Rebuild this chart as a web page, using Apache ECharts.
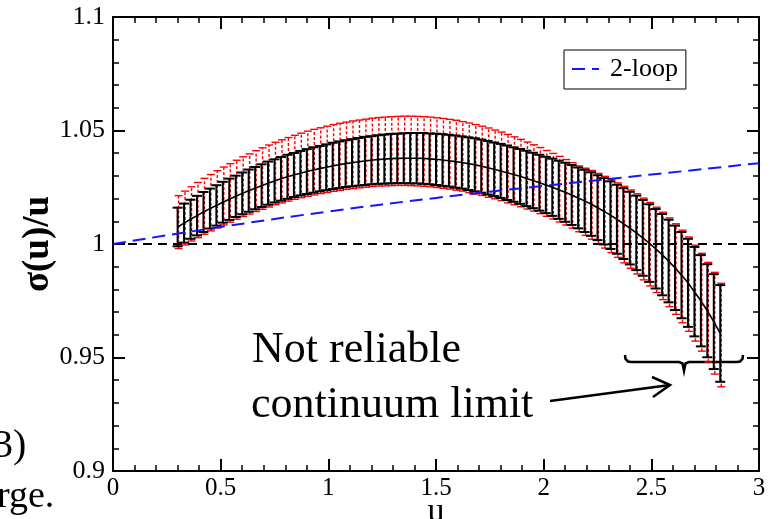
<!DOCTYPE html>
<html>
<head>
<meta charset="utf-8">
<script src="https://cdn.jsdelivr.net/npm/echarts@6/dist/echarts.min.js"></script>
<style>
  html, body { margin: 0; padding: 0; background: #fff; }
  #chart { width: 773px; height: 519px; }
</style>
</head>
<body>
<div id="chart"></div>
<script>
// Step scaling function sigma(u)/u versus u
const uValues = [
  0.30, 0.33, 0.36, 0.39, 0.42, 0.45, 0.48, 0.51, 0.54, 0.57,
  0.60, 0.63, 0.66, 0.69, 0.72, 0.75, 0.78, 0.81, 0.84, 0.87,
  0.90, 0.93, 0.96, 0.99, 1.02, 1.05, 1.08, 1.11, 1.14, 1.17,
  1.20, 1.23, 1.26, 1.29, 1.32, 1.35, 1.38, 1.41, 1.44, 1.47,
  1.50, 1.53, 1.56, 1.59, 1.62, 1.65, 1.68, 1.71, 1.74, 1.77,
  1.80, 1.83, 1.86, 1.89, 1.92, 1.95, 1.98, 2.01, 2.04, 2.07,
  2.10, 2.13, 2.16, 2.19, 2.22, 2.25, 2.28, 2.31, 2.34, 2.37,
  2.40, 2.43, 2.46, 2.49, 2.52, 2.55, 2.58, 2.61, 2.64, 2.67,
  2.70, 2.73, 2.76, 2.79, 2.82
];
// continuum-limit central value
const center = [
  1.0075, 1.0092, 1.0109, 1.0125, 1.0141, 1.0156, 1.0170, 1.0184, 1.0197, 1.0210,
  1.0223, 1.0235, 1.0246, 1.0257, 1.0268, 1.0278, 1.0287, 1.0296, 1.0304, 1.0312,
  1.0319, 1.0326, 1.0332, 1.0338, 1.0344, 1.0349, 1.0354, 1.0358, 1.0362, 1.0366,
  1.0369, 1.0372, 1.0374, 1.0376, 1.0377, 1.0378, 1.0378, 1.0378, 1.0377, 1.0375,
  1.0373, 1.0370, 1.0367, 1.0363, 1.0359, 1.0354, 1.0349, 1.0343, 1.0336, 1.0329,
  1.0322, 1.0314, 1.0306, 1.0298, 1.0289, 1.0280, 1.0270, 1.0260, 1.0250, 1.0239,
  1.0228, 1.0216, 1.0203, 1.0190, 1.0176, 1.0160, 1.0144, 1.0127, 1.0109, 1.0090,
  1.0070, 1.0049, 1.0027, 1.0004, 0.9979, 0.9953, 0.9925, 0.9895, 0.9863, 0.9829,
  0.9790, 0.9750, 0.9706, 0.9658, 0.9606
];
// statistical error of the central value
const errBlack = [
  0.0085, 0.0086, 0.0086, 0.0087, 0.0088, 0.0088, 0.0089, 0.0090, 0.0091, 0.0091,
  0.0092, 0.0093, 0.0093, 0.0094, 0.0095, 0.0095, 0.0096, 0.0097, 0.0097, 0.0098,
  0.0099, 0.0100, 0.0100, 0.0101, 0.0102, 0.0103, 0.0103, 0.0104, 0.0105, 0.0106,
  0.0106, 0.0107, 0.0108, 0.0109, 0.0109, 0.0110, 0.0111, 0.0111, 0.0112, 0.0112,
  0.0113, 0.0114, 0.0114, 0.0115, 0.0115, 0.0116, 0.0117, 0.0117, 0.0118, 0.0118,
  0.0119, 0.0120, 0.0120, 0.0121, 0.0122, 0.0122, 0.0123, 0.0124, 0.0126, 0.0128,
  0.0130, 0.0132, 0.0134, 0.0137, 0.0140, 0.0143, 0.0146, 0.0149, 0.0152, 0.0156,
  0.0160, 0.0164, 0.0167, 0.0171, 0.0175, 0.0179, 0.0182, 0.0186, 0.0190, 0.0194,
  0.0197, 0.0201, 0.0205, 0.0209, 0.0213
];
// band including the systematic uncertainty
const redHigh = [
  1.0213, 1.0233, 1.0252, 1.0271, 1.0289, 1.0306, 1.0323, 1.0339, 1.0354, 1.0369,
  1.0384, 1.0397, 1.0411, 1.0424, 1.0436, 1.0448, 1.0459, 1.0469, 1.0479, 1.0488,
  1.0497, 1.0505, 1.0512, 1.0519, 1.0526, 1.0532, 1.0537, 1.0542, 1.0546, 1.0550,
  1.0554, 1.0557, 1.0559, 1.0561, 1.0562, 1.0563, 1.0563, 1.0562, 1.0561, 1.0559,
  1.0556, 1.0553, 1.0549, 1.0545, 1.0539, 1.0533, 1.0526, 1.0519, 1.0511, 1.0502,
  1.0493, 1.0483, 1.0472, 1.0461, 1.0449, 1.0437, 1.0425, 1.0412, 1.0399, 1.0386,
  1.0372, 1.0358, 1.0344, 1.0334, 1.0324, 1.0311, 1.0298, 1.0284, 1.0269, 1.0254,
  1.0238, 1.0221, 1.0202, 1.0183, 1.0162, 1.0140, 1.0115, 1.0089, 1.0061, 1.0031,
  0.9995, 0.9959, 0.9919, 0.9875, 0.9827
];
const redLow = [
  0.9980, 0.9996, 1.0013, 1.0028, 1.0043, 1.0058, 1.0071, 1.0084, 1.0096, 1.0109,
  1.0121, 1.0132, 1.0143, 1.0153, 1.0163, 1.0173, 1.0181, 1.0189, 1.0197, 1.0204,
  1.0210, 1.0216, 1.0222, 1.0227, 1.0232, 1.0236, 1.0241, 1.0244, 1.0247, 1.0250,
  1.0253, 1.0255, 1.0256, 1.0257, 1.0258, 1.0258, 1.0257, 1.0256, 1.0254, 1.0252,
  1.0249, 1.0245, 1.0242, 1.0237, 1.0233, 1.0226, 1.0220, 1.0214, 1.0206, 1.0199,
  1.0191, 1.0181, 1.0173, 1.0164, 1.0154, 1.0145, 1.0134, 1.0122, 1.0110, 1.0097,
  1.0084, 1.0070, 1.0054, 1.0038, 1.0021, 1.0002, 0.9982, 0.9962, 0.9941, 0.9917,
  0.9893, 0.9868, 0.9842, 0.9815, 0.9786, 0.9755, 0.9724, 0.9690, 0.9653, 0.9615,
  0.9572, 0.9528, 0.9480, 0.9427, 0.9371
];
// two-loop perturbative curve
const loopU = [0, 0.5, 1.0, 1.5, 2.0, 2.5, 3.0];
const loopRatio = [1.0000, 1.0075, 1.0143, 1.0203, 1.0256, 1.0306, 1.0356];
const unitLevel = 1;

const SERIF = '"Liberation Serif", "Times New Roman", serif';

const blackBars = uValues.map((u, i) => [u, center[i] - errBlack[i], center[i] + errBlack[i]]);
const redBars = uValues.map((u, i) => [u, redLow[i], redHigh[i]]);
const centerLine = uValues.map((u, i) => [u, center[i]]);
const loopLine = loopU.map((u, i) => [u, loopRatio[i]]);

function errorBar(color, lineWidth, capHalf, dash, shift) {
  return function (params, api) {
    const x = api.value(0);
    const lo = api.coord([x, api.value(1)]);
    const hi = api.coord([x, api.value(2)]);
    const cx = lo[0] + shift;
    const style = { stroke: color, lineWidth: lineWidth };
    return {
      type: 'group',
      children: [
        { type: 'line', shape: { x1: cx, y1: lo[1], x2: cx, y2: hi[1] },
          style: Object.assign({}, style, dash ? { lineDash: dash } : {}) },
        { type: 'line', shape: { x1: cx - capHalf, y1: hi[1], x2: cx + capHalf, y2: hi[1] }, style: style },
        { type: 'line', shape: { x1: cx - capHalf, y1: lo[1], x2: cx + capHalf, y2: lo[1] }, style: style }
      ]
    };
  };
}

// frame axes: ticks drawn pointing into the plot
function frameAxis(extra) {
  return Object.assign({
    type: 'value',
    axisLine: { show: true, onZero: false, lineStyle: { color: '#000', width: 2 } },
    axisTick: { show: true, inside: true, length: 12, lineStyle: { color: '#000', width: 2 } },
    minorTick: { show: true, splitNumber: 5, length: 6, lineStyle: { color: '#000', width: 1.5 } },
    splitLine: { show: false },
    minorSplitLine: { show: false }
  }, extra);
}

const chart = echarts.init(document.getElementById('chart'));
chart.setOption({
  animation: false,
  backgroundColor: '#fff',
  grid: { left: 113, top: 17, right: 14, bottom: 48, containLabel: false, outerBoundsMode: 'none' },
  legend: {
    data: ['2-loop'],
    left: 564, top: 50,
    orient: 'vertical',
    padding: [6, 8, 7, 7],
    itemWidth: 27, itemHeight: 10,
    itemStyle: { opacity: 0 },
    borderColor: '#000', borderWidth: 1,
    backgroundColor: '#fff',
    textStyle: { fontFamily: SERIF, fontSize: 26, color: '#000', padding: [0, 0, 0, 6] }
  },
  xAxis: [
    frameAxis({
      min: 0, max: 3, interval: 0.5, position: 'bottom',
      axisLabel: { fontFamily: SERIF, fontSize: 25, color: '#000', margin: 5 },
      name: 'u', nameLocation: 'middle', nameGap: 24, nameMoveOverlap: false,
      nameTextStyle: { fontFamily: SERIF, fontSize: 34, color: '#000', verticalAlign: 'top' }
    }),
    frameAxis({ min: 0, max: 3, interval: 0.5, position: 'top', axisLabel: { show: false } })
  ],
  yAxis: [
    frameAxis({
      min: 0.9, max: 1.1, interval: 0.05, position: 'left',
      axisLabel: { fontFamily: SERIF, fontSize: 26, color: '#000', margin: 8 },
      name: 'σ(u)/u', nameLocation: 'middle', nameGap: 75, nameRotate: 90, nameMoveOverlap: false,
      nameTextStyle: { fontFamily: SERIF, fontSize: 37, fontWeight: 'bold', color: '#000', verticalAlign: 'middle' }
    }),
    frameAxis({ min: 0.9, max: 1.1, interval: 0.05, position: 'right', axisLabel: { show: false } })
  ],
  series: [
    {
      name: 'systematic', type: 'custom', data: redBars, z: 2,
      encode: { x: 0, y: [1, 2] },
      renderItem: errorBar('#ff0000', 1.4, 4, [3, 2], 1)
    },
    {
      name: 'statistical', type: 'custom', data: blackBars, z: 3,
      encode: { x: 0, y: [1, 2] },
      renderItem: errorBar('#000', 2, 5, null, 0)
    },
    {
      name: 'central', type: 'line', data: centerLine, z: 4,
      symbol: 'none', lineStyle: { color: '#000', width: 1.6 }
    },
    {
      name: 'unit', type: 'line', data: [[0, unitLevel], [3, unitLevel]], z: 5,
      symbol: 'none', lineStyle: { color: '#000', width: 2, type: [9, 6] }
    },
    {
      name: '2-loop', type: 'line', data: loopLine, z: 6, smooth: true,
      symbol: 'none', itemStyle: { color: '#1414ff' },
      lineStyle: { color: '#1414ff', width: 2, type: [13, 7] }
    }
  ],
  graphic: [
    { type: 'text', x: 252, y: 350, style: { text: 'Not reliable', font: '44px ' + SERIF, fill: '#000', verticalAlign: 'middle' } },
    { type: 'text', x: 251, y: 405, style: { text: 'continuum limit', font: '44px ' + SERIF, fill: '#000', verticalAlign: 'middle' } },
    { type: 'text', x: -7, y: 446, style: { text: '3)', font: '40px ' + SERIF, fill: '#000', verticalAlign: 'middle' } },
    { type: 'text', x: -3, y: 497, style: { text: 'rge.', font: '38px ' + SERIF, fill: '#000', verticalAlign: 'middle' } },
    { type: 'polyline', shape: { points: [[550, 401], [670, 385]] }, style: { stroke: '#000', lineWidth: 2.5 } },
    { type: 'polyline', shape: { points: [[652, 377], [670, 385], [653, 397]] }, style: { stroke: '#000', lineWidth: 2.5, fill: null } },
    { type: 'polyline', shape: { points: [[625, 355], [625.5, 359], [628, 361.5], [631, 362], [679, 362], [682.5, 363.5], [684, 371], [685.5, 363.5], [689, 362], [737, 362], [740, 361.5], [742.5, 359], [743, 355]] },
      style: { stroke: '#000', lineWidth: 2.5, fill: null } }
  ]
});
</script>
</body>
</html>
